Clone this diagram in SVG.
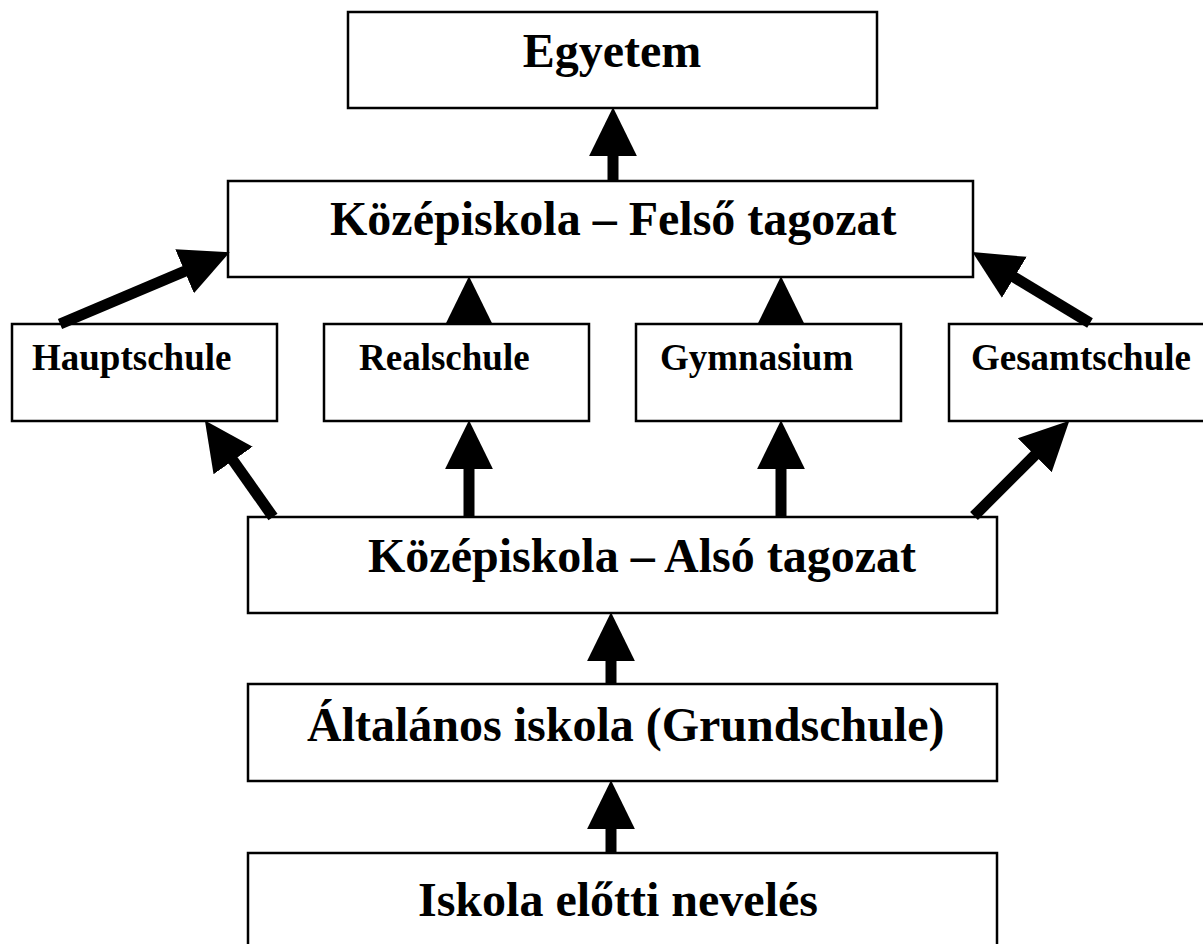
<svg xmlns="http://www.w3.org/2000/svg" width="1203" height="944" viewBox="0 0 1203 944">
<style>
.box{fill:#fff;stroke:#000;stroke-width:2.5}
.big{font-family:"Liberation Serif","Times New Roman",serif;font-weight:bold;font-size:48px;fill:#000}
.sm{font-family:"Liberation Serif","Times New Roman",serif;font-weight:bold;font-size:37px;fill:#000}
.arr{stroke:#000;stroke-width:11;fill:none;marker-end:url(#head)}
</style>
<defs>
<marker id="head" markerUnits="userSpaceOnUse" markerWidth="50" markerHeight="50" viewBox="0 -23 47 46" refX="1" refY="0" orient="auto">
<path d="M0,-22.5 L46,0 L0,22.5 Z" fill="#000"/>
</marker>
</defs>
<rect width="1203" height="944" fill="#fff"/>
<g id="egyetem"><rect class="box" x="348" y="12" width="529" height="96"/><text class="big" x="612" y="67" text-anchor="middle">Egyetem</text></g>
<g id="felso"><rect class="box" x="228" y="181" width="745" height="96"/><text class="big" x="330" y="235">Középiskola – Felső tagozat</text></g>
<g id="hauptschule"><rect class="box" x="12" y="324" width="265" height="97"/><text class="sm" x="32" y="370">Hauptschule</text></g>
<g id="realschule"><rect class="box" x="324" y="324" width="265" height="97"/><text class="sm" x="359" y="370">Realschule</text></g>
<g id="gymnasium"><rect class="box" x="636" y="324" width="265" height="97"/><text class="sm" x="660" y="370">Gymnasium</text></g>
<g id="gesamtschule"><rect class="box" x="949" y="324" width="270" height="97"/><text class="sm" x="971" y="370">Gesamtschule</text></g>
<g id="also"><rect class="box" x="248" y="517" width="749" height="96"/><text class="big" x="368" y="572">Középiskola – Alsó tagozat</text></g>
<g id="altalanos"><rect class="box" x="248" y="684" width="749" height="97"/><text class="big" x="307" y="741">Általános iskola (Grundschule)</text></g>
<g id="iskolaelotti"><rect class="box" x="248" y="853" width="749" height="110"/><text class="big" x="418" y="916">Iskola előtti nevelés</text></g>
<g id="connectors">
<line class="arr" x1="613" y1="181" x2="613" y2="155"/>
<line class="arr" x1="469" y1="325" x2="469" y2="324"/>
<line class="arr" x1="781" y1="325" x2="781" y2="324"/>
<line class="arr" x1="469" y1="517" x2="469" y2="468"/>
<line class="arr" x1="781" y1="517" x2="781" y2="468"/>
<line class="arr" x1="611" y1="684" x2="611" y2="660"/>
<line class="arr" x1="611" y1="853" x2="611" y2="828"/>
<line class="arr" x1="60" y1="324" x2="185.6" y2="270.9"/>
<line class="arr" x1="273" y1="517" x2="232.5" y2="459.6"/>
<line class="arr" x1="1090" y1="323" x2="1013.4" y2="276.8"/>
<line class="arr" x1="974" y1="516" x2="1035.5" y2="454.5"/>
</g>
</svg>
